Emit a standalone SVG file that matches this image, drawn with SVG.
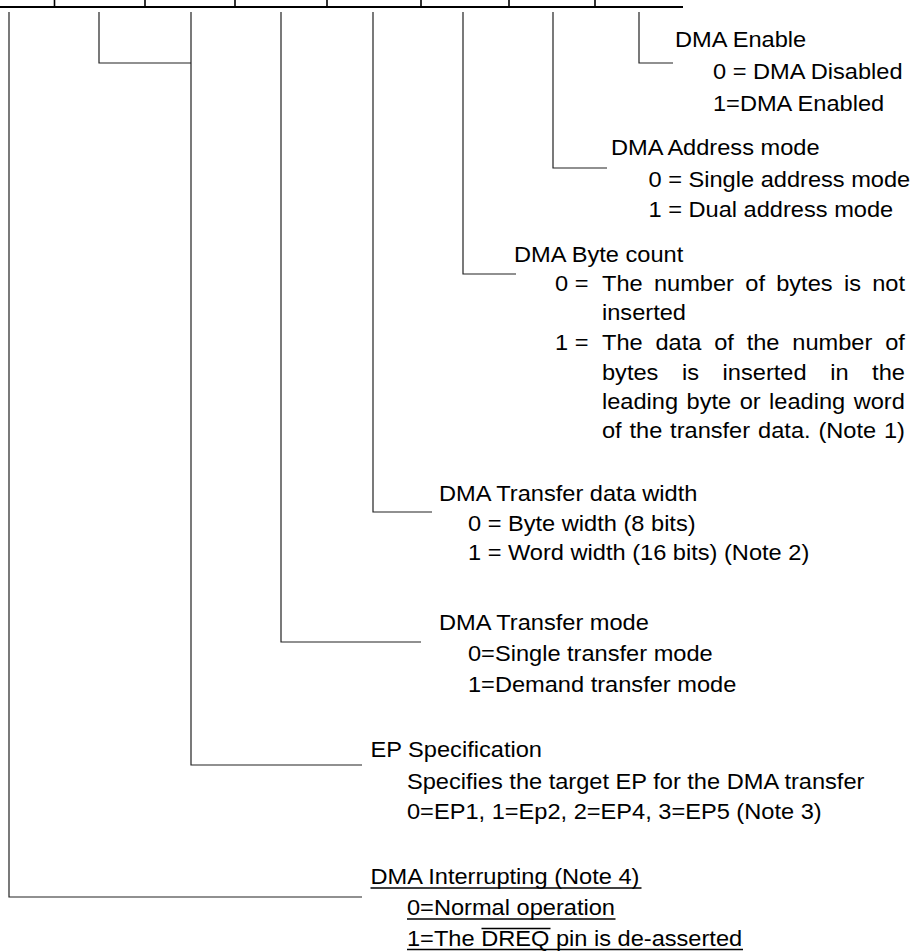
<svg xmlns="http://www.w3.org/2000/svg" width="917" height="951" viewBox="0 0 917 951">
<style>
.t{font-family:"Liberation Sans",Arial,sans-serif;font-size:22.5px;fill:#000}
.c{fill:none;stroke:#222;stroke-width:1.2}
.bar{stroke:#000;stroke-width:2.2;fill:none}
.tick{stroke:#000;stroke-width:1.6}
.ul{stroke:#000;stroke-width:1.4}
</style>
<rect width="917" height="951" fill="#fff"/>
<g id="register">
<line class="bar" x1="0" y1="7" x2="683" y2="7"/>
<line class="tick" x1="54.5" y1="0" x2="54.5" y2="7"/>
<line class="tick" x1="145" y1="0" x2="145" y2="7"/>
<line class="tick" x1="235" y1="0" x2="235" y2="7"/>
<line class="tick" x1="327" y1="0" x2="327" y2="7"/>
<line class="tick" x1="421" y1="0" x2="421" y2="7"/>
<line class="tick" x1="509" y1="0" x2="509" y2="7"/>
<line class="tick" x1="595" y1="0" x2="595" y2="7"/>
</g>
<g id="connectors">
<polyline class="c" points="639,12 639,63 673,63"/>
<polyline class="c" points="553,12 553,168 607,168"/>
<polyline class="c" points="463,12 463,274 516,274"/>
<polyline class="c" points="373,12 373,512 432,512"/>
<polyline class="c" points="281,12 281,642 421,642"/>
<polyline class="c" points="99,12 99,63 191,63"/>
<polyline class="c" points="191,12 191,765 362,765"/>
<polyline class="c" points="9,12 9,897 362,897"/>
</g>
<g transform="scale(1.05,1)">
<g id="dma-enable">
<text class="t" x="642.86" y="47">DMA Enable</text>
<text class="t" x="679.05" y="79">0 = DMA Disabled</text>
<text class="t" x="679.05" y="111">1=DMA Enabled</text>
</g>
<g id="dma-address-mode">
<text class="t" x="581.9" y="155">DMA Address mode</text>
<text class="t" x="617.62" y="187">0 = Single address mode</text>
<text class="t" x="617.62" y="217">1 = Dual address mode</text>
</g>
<g id="dma-byte-count">
<text class="t" x="489.52" y="262">DMA Byte count</text>
<text class="t" y="291"><tspan x="528.57">0 =</tspan><tspan x="573.33">The</tspan><tspan x="622.76">number</tspan><tspan x="709.81">of</tspan><tspan x="739.24">bytes</tspan><tspan x="803.71">is</tspan><tspan x="830.67">not</tspan></text>
<text class="t" x="573.33" y="320">inserted</text>
<text class="t" y="350"><tspan x="528.57">1 =</tspan><tspan x="573.33">The</tspan><tspan x="624.29">data</tspan><tspan x="680.19">of</tspan><tspan x="711.14">the</tspan><tspan x="754.57">number</tspan><tspan x="843.05">of</tspan></text>
<text class="t" y="380"><tspan x="573.33">bytes</tspan><tspan x="649.52">is</tspan><tspan x="688.19">inserted</tspan><tspan x="790.67">in</tspan><tspan x="830.57">the</tspan></text>
<text class="t" y="409"><tspan x="573.33">leading</tspan><tspan x="653.9">byte</tspan><tspan x="704.48">or</tspan><tspan x="732.48">leading</tspan><tspan x="813.05">word</tspan></text>
<text class="t" y="438"><tspan x="573.33">of</tspan><tspan x="599.52">the</tspan><tspan x="638.19">transfer</tspan><tspan x="722">data.</tspan><tspan x="779.43">(Note</tspan><tspan x="841.9">1)</tspan></text>
</g>
<g id="dma-transfer-data-width">
<text class="t" x="418.1" y="501">DMA Transfer data width</text>
<text class="t" x="445.71" y="531">0 = Byte width (8 bits)</text>
<text class="t" x="445.71" y="560">1 = Word width (16 bits) (Note 2)</text>
</g>
<g id="dma-transfer-mode">
<text class="t" x="418.1" y="630">DMA Transfer mode</text>
<text class="t" x="445.71" y="661">0=Single transfer mode</text>
<text class="t" x="445.71" y="692">1=Demand transfer mode</text>
</g>
<g id="ep-specification">
<text class="t" x="352.86" y="757">EP Specification</text>
<text class="t" x="387.62" y="789">Specifies the target EP for the DMA transfer</text>
<text class="t" x="387.62" y="819">0=EP1, 1=Ep2, 2=EP4, 3=EP5 (Note 3)</text>
</g>
<g id="dma-interrupting">
<text class="t" x="352.86" y="884">DMA Interrupting (Note 4)</text>
<text class="t" x="387.62" y="915">0=Normal operation</text>
<text class="t" x="387.62" y="946">1=The DREQ pin is de-asserted</text>
</g>
</g>
<g id="decorations">
<line class="ul" x1="370.5" y1="888" x2="641.5" y2="888"/>
<line class="ul" x1="407" y1="919" x2="615.5" y2="919"/>
<line class="ul" x1="407" y1="949.5" x2="743" y2="949.5"/>
<line class="ul" x1="481.5" y1="928.5" x2="550.5" y2="928.5"/>
</g>
</svg>
